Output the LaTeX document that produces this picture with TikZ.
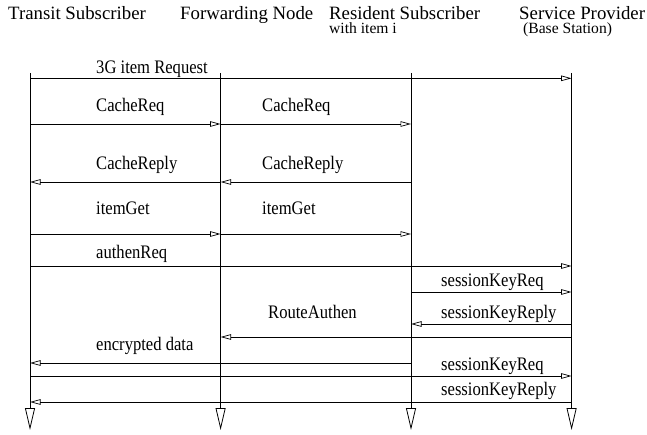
\documentclass[tikz,border=0pt]{standalone}
\usepackage{fontspec}
\setmainfont{Liberation Serif}
\usetikzlibrary{arrows.meta}
\newcommand{\tallt}[1]{\scalebox{1}[1.15]{#1}}
\tikzset{
  hdr/.style={inner sep=0pt, anchor=base west, font=\fontsize{18.8}{20}\selectfont},
  sub/.style={inner sep=0pt, anchor=base west, font=\fontsize{15.6}{17}\selectfont},
  lbl/.style={inner sep=0pt, anchor=base west, font=\fontsize{16.6}{18}\selectfont},
  life/.style={line width=0.9pt, -{Triangle[open, length=22pt, width=10pt, line width=0.8pt]}},
  msg/.style={line width=0.8pt, -{Triangle[open, length=10.5pt, width=5.5pt, line width=0.7pt]}}
}
\begin{document}
\begin{tikzpicture}[x=1pt, y=-1pt]
\useasboundingbox (0,0) rectangle (647,435);
% headers
\node[hdr] (hT) at (8,20) {Transit Subscriber};
\node[hdr] (hF) at (180,20) {Forwarding Node};
\node[hdr, text depth=0pt] (hR) at (329,20) {Resident Subscriber};
\node[sub] (sR) at (329,33.8) {with item i};
\node[hdr, text depth=0pt] (hS) at (519,20) {Service Provider};
\node[sub] (sS) at (523,33.8) {(Base Station)};
% lifelines
\coordinate (T0) at (30,73);   \coordinate (T1) at (30,430);
\coordinate (F0) at (220.6,73); \coordinate (F1) at (220.6,430);
\coordinate (R0) at (411,73);  \coordinate (R1) at (411,430);
\coordinate (S0) at (571.6,73); \coordinate (S1) at (571.6,430);
\draw[life] (T0) -- (T1);
\draw[life] (F0) -- (F1);
\draw[life] (R0) -- (R1);
\draw[life] (S0) -- (S1);
% message levels
\coordinate (m1) at (0,78.3);
\coordinate (m2) at (0,124);
\coordinate (m3) at (0,182);
\coordinate (m4) at (0,234);
\coordinate (m5) at (0,266);
\coordinate (m6) at (0,292);
\coordinate (m7) at (0,324);
\coordinate (m8) at (0,337);
\coordinate (m9) at (0,363);
\coordinate (m10) at (0,376);
\coordinate (m11) at (0,402);
% messages
\draw[msg] (T0 |- m1) -- (S0 |- m1);
\node[lbl] (l1) at (96,73.3) {\tallt{3G item Request}};
\draw[msg] (T0 |- m2) -- (F0 |- m2);
\draw[msg] (F0 |- m2) -- (R0 |- m2);
\node[lbl] (l2a) at (96,111.7) {\tallt{CacheReq}};
\node[lbl] (l2b) at (262,111.7) {\tallt{CacheReq}};
\draw[msg] (R0 |- m3) -- (F0 |- m3);
\draw[msg] (F0 |- m3) -- (T0 |- m3);
\node[lbl] (l3a) at (96,170) {\tallt{CacheReply}};
\node[lbl] (l3b) at (262,170) {\tallt{CacheReply}};
\draw[msg] (T0 |- m4) -- (F0 |- m4);
\draw[msg] (F0 |- m4) -- (R0 |- m4);
\node[lbl] (l4a) at (96,215) {\tallt{itemGet}};
\node[lbl] (l4b) at (262,215) {\tallt{itemGet}};
\draw[msg] (T0 |- m5) -- (S0 |- m5);
\node[lbl] (l5) at (96,259) {\tallt{authenReq}};
\draw[msg] (R0 |- m6) -- (S0 |- m6);
\node[lbl] (l6) at (441,287) {\tallt{sessionKeyReq}};
\draw[msg] (S0 |- m7) -- (R0 |- m7);
\node[lbl] (l7) at (441,318) {\tallt{sessionKeyReply}};
\draw[msg] (S0 |- m8) -- (F0 |- m8);
\node[lbl] (l8) at (268,318) {\tallt{RouteAuthen}};
\draw[msg] (R0 |- m9) -- (T0 |- m9);
\node[lbl] (l9) at (96,350) {\tallt{encrypted data}};
\draw[msg] (T0 |- m10) -- (S0 |- m10);
\node[lbl] (l10) at (441,370) {\tallt{sessionKeyReq}};
\draw[msg] (S0 |- m11) -- (T0 |- m11);
\node[lbl] (l11) at (441,395) {\tallt{sessionKeyReply}};
\end{tikzpicture}
\end{document}
